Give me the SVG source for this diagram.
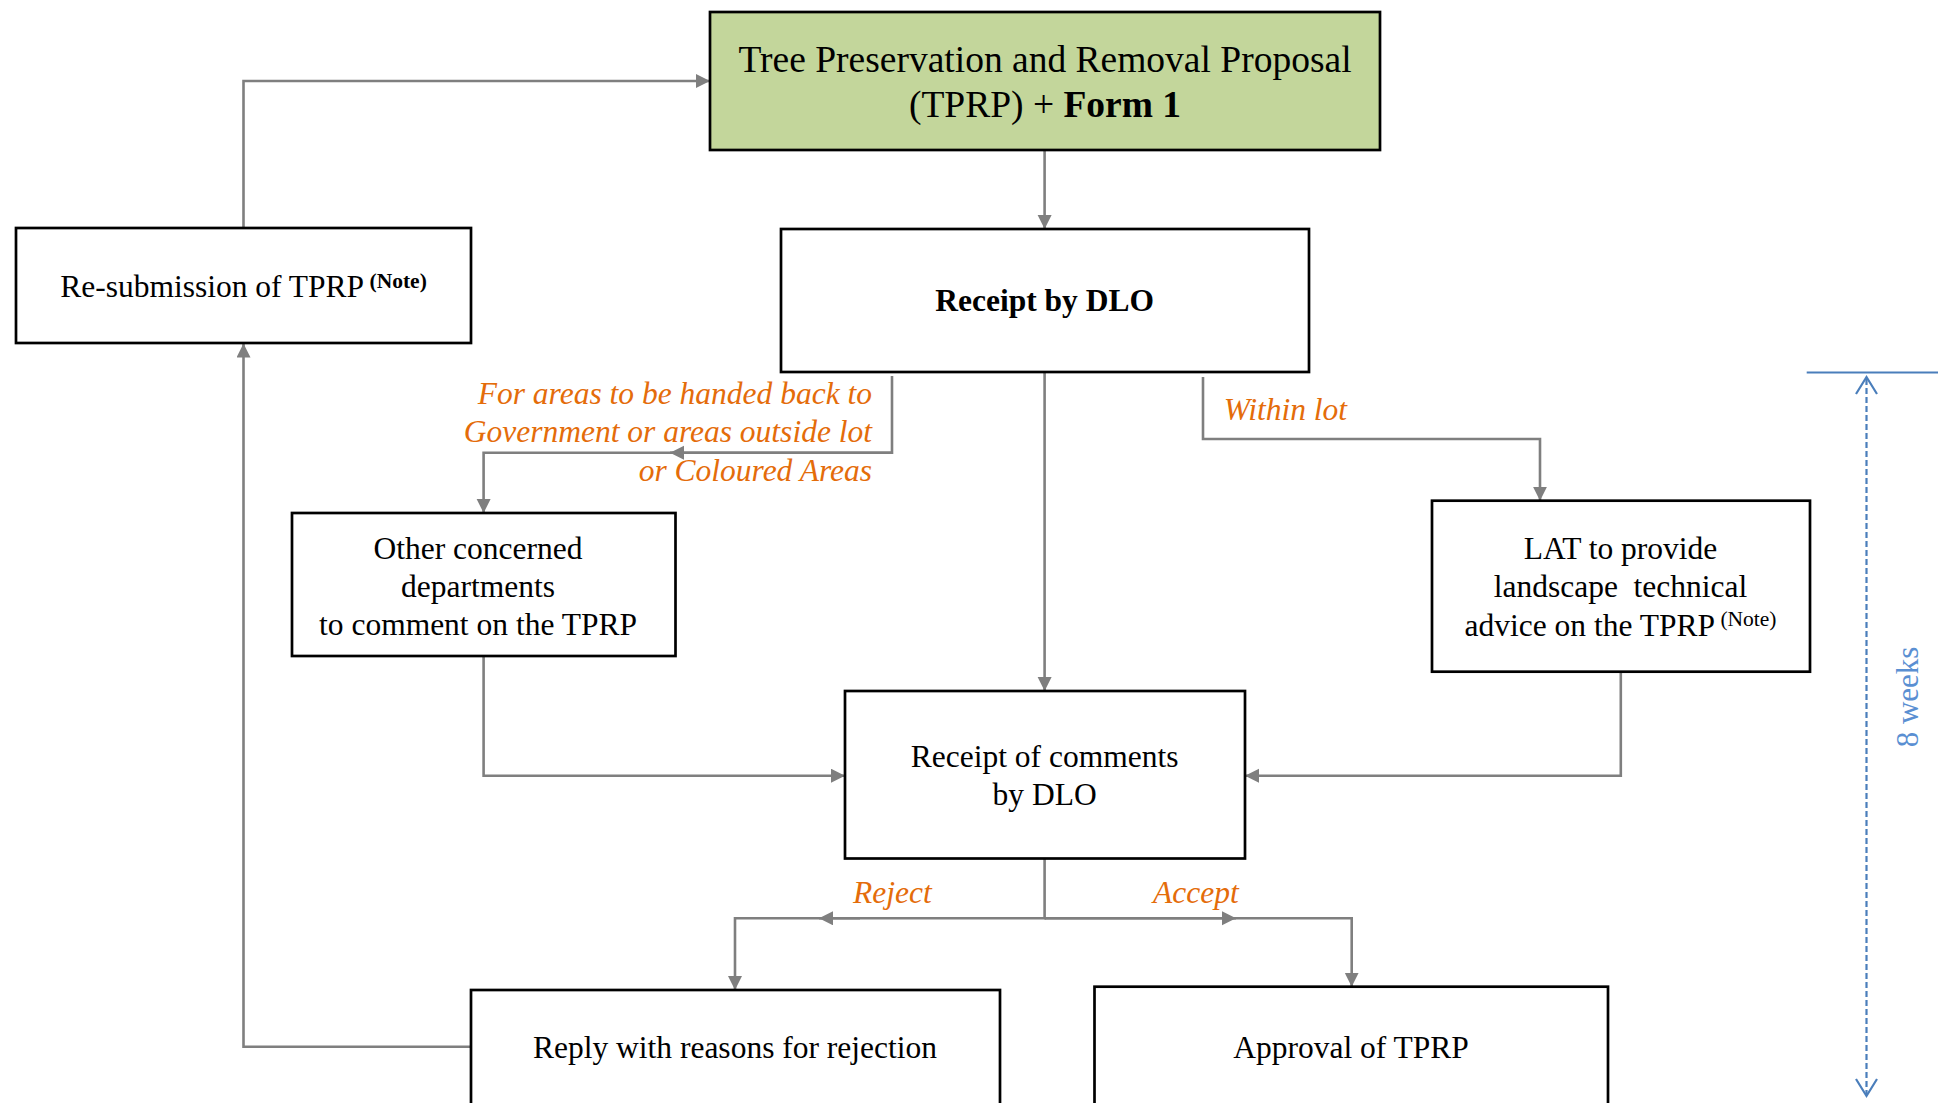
<svg xmlns="http://www.w3.org/2000/svg" width="1938" height="1103" viewBox="0 0 1938 1103">
<style>
.box{fill:#ffffff;stroke:#000000;stroke-width:2.7}
.green{fill:#C3D69B;stroke:#000000;stroke-width:2.7}
.t{font-family:"Liberation Serif","Times New Roman",serif;font-size:31.5px;fill:#000000;text-anchor:middle}
.title{font-size:37.5px}
.b{font-weight:bold}
.sup{font-size:21.5px}
.lbl{font-family:"Liberation Serif","Times New Roman",serif;font-size:31.5px;font-style:italic;fill:#E46C0A}
.c{fill:none;stroke:#7F7F7F;stroke-width:2.6}
.blue{fill:none;stroke:#4A7EBB;stroke-width:2.2}
</style>
<defs>
<marker id="ah" markerUnits="userSpaceOnUse" markerWidth="16" markerHeight="16" refX="14" refY="7" orient="auto">
<path d="M0,0 L14,7 L0,14 z" fill="#7F7F7F"/>
</marker>
</defs>
<rect width="1938" height="1103" fill="#ffffff"/>

<g id="connectors">
<path class="c" d="M243.5,228 V81 H710" marker-end="url(#ah)"/>
<path class="c" d="M1044.6,150 V229" marker-end="url(#ah)"/>
<path class="c" d="M1044.6,373 V691" marker-end="url(#ah)"/>
<path class="c" d="M892,376 V452.7 H483.6 V513" marker-end="url(#ah)"/>
<path class="c" d="M892,452.7 H670" marker-end="url(#ah)"/>
<path class="c" d="M1203,377 V439 H1540 V500.7" marker-end="url(#ah)"/>
<path class="c" d="M483.6,656 V775.7 H845" marker-end="url(#ah)"/>
<path class="c" d="M1620.8,672 V775.7 H1245" marker-end="url(#ah)"/>
<path class="c" d="M1044.6,859 V918.3 H735 V990" marker-end="url(#ah)"/>
<path class="c" d="M1044.6,918.3 H1351.7 V986.7" marker-end="url(#ah)"/>
<path class="c" d="M860,918.3 H819" marker-end="url(#ah)"/>
<path class="c" d="M1044.6,918.3 H1236" marker-end="url(#ah)"/>
<path class="c" d="M471,1046.7 H243.5 V343.5" marker-end="url(#ah)"/>
</g>

<g id="n-tprp">
<rect class="green" x="710" y="12" width="670" height="138"/>
<text class="t title" x="1045" y="72.3">Tree Preservation and Removal Proposal</text>
<text class="t title" x="1045" y="117.3">(TPRP) + <tspan class="b">Form 1</tspan></text>
</g>

<g id="n-resubmission">
<rect class="box" x="16" y="228" width="455" height="115"/>
<text class="t" x="243.5" y="296.7">Re-submission of TPRP<tspan class="sup b" dy="-9"> (Note)</tspan></text>
</g>

<g id="n-receipt">
<rect class="box" x="781" y="229" width="528" height="143"/>
<text class="t b" x="1044.6" y="310.7">Receipt by DLO</text>
</g>

<g id="n-other">
<rect class="box" x="292" y="513" width="383.5" height="143"/>
<text class="t" x="478" y="559">Other concerned</text>
<text class="t" x="478" y="597">departments</text>
<text class="t" x="478" y="635">to comment on the TPRP</text>
</g>

<g id="n-lat">
<rect class="box" x="1432" y="500.7" width="378" height="171"/>
<text class="t" x="1620.5" y="559.3">LAT to provide</text>
<text class="t" x="1620.5" y="597.3" xml:space="preserve">landscape  technical</text>
<text class="t" x="1620.5" y="635.5">advice on the TPRP<tspan class="sup" dy="-10"> (Note)</tspan></text>
</g>

<g id="n-comments">
<rect class="box" x="845" y="691" width="400" height="167.5"/>
<text class="t" x="1044.6" y="767.3">Receipt of comments</text>
<text class="t" x="1044.6" y="805">by DLO</text>
</g>

<g id="n-reply">
<rect class="box" x="471" y="990" width="529" height="140"/>
<text class="t" x="735" y="1058">Reply with reasons for rejection</text>
</g>

<g id="n-approval">
<rect class="box" x="1094.5" y="986.7" width="513.5" height="140"/>
<text class="t" x="1351" y="1058">Approval of TPRP</text>
</g>

<g id="labels">
<text class="lbl" x="872" y="403.5" text-anchor="end">For areas to be handed back to</text>
<text class="lbl" x="872" y="441.7" text-anchor="end">Government or areas outside lot</text>
<text class="lbl" x="872" y="480.5" text-anchor="end">or Coloured Areas</text>
<text class="lbl" x="1223.7" y="420">Within lot</text>
<text class="lbl" x="853" y="902.5">Reject</text>
<text class="lbl" x="1153" y="902.5">Accept</text>
</g>

<g id="timeline">
<line class="blue" x1="1806.7" y1="372.5" x2="1938" y2="372.5" stroke-width="1.6"/>
<line class="blue" x1="1866.5" y1="379" x2="1866.5" y2="1094" stroke-width="2.6" stroke-dasharray="6 3"/>
<path class="blue" d="M1856,394 L1866.5,377 L1877,394"/>
<path class="blue" d="M1856,1079 L1866.5,1096 L1877,1079"/>
<text transform="translate(1918,697) rotate(-90)" font-family="Liberation Serif,Times New Roman,serif" font-size="31px" fill="#5A8FD2" text-anchor="middle">8 weeks</text>
</g>
</svg>
